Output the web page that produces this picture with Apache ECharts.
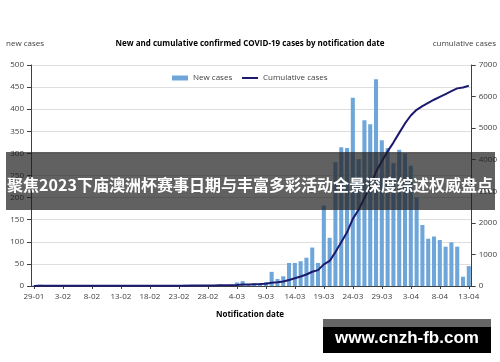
<!DOCTYPE html>
<html><head><meta charset="utf-8">
<script src="https://cdn.jsdelivr.net/npm/echarts@6/dist/echarts.min.js"></script>
<style>html,body{margin:0;padding:0;background:#fff}#c{width:500px;height:362px}</style>
</head><body><div id="c"></div>
<script>
var dates = ["29-01","30-01","31-01","1-02","2-02","3-02","4-02","5-02","6-02","7-02","8-02","9-02","10-02","11-02","12-02","13-02","14-02","15-02","16-02","17-02","18-02","19-02","20-02","21-02","22-02","23-02","24-02","25-02","26-02","27-02","28-02","29-02","1-03","2-03","3-03","4-03","5-03","6-03","7-03","8-03","9-03","10-03","11-03","12-03","13-03","14-03","15-03","16-03","17-03","18-03","19-03","20-03","21-03","22-03","23-03","24-03","25-03","26-03","27-03","28-03","29-03","30-03","31-03","1-04","2-04","3-04","4-04","5-04","6-04","7-04","8-04","9-04","10-04","11-04","12-04","13-04"];
var newCases = [1,3,1,0,1,0,0,1,0,0,0,0,0,0,0,0,0,0,0,0,0,0,0,0,0,1,3,1,1,2,2,2,3,2,3,8,11,4,6,5,9,32,16,22,52,52,56,64,87,52,182,109,280,314,312,426,287,375,366,468,330,312,278,308,300,272,200,138,107,112,104,89,99,89,21,45];
var cumulative = [1,4,5,5,6,6,6,7,7,7,7,7,7,7,7,7,7,7,7,7,7,7,7,7,7,8,11,12,13,15,17,19,22,24,27,35,46,50,56,61,70,102,118,140,192,244,300,364,451,503,685,794,1074,1388,1700,2126,2413,2788,3154,3622,3952,4264,4542,4850,5150,5400,5580,5700,5800,5900,5990,6080,6170,6260,6290,6340];
var leftTicks = {min:0, max:500, interval:50};
var rightTicks = {min:0, max:7000, interval:1000};
var titleText = "New and cumulative confirmed COVID-19 cases by notification date";
var bannerText = "聚焦2023下庙澳洲杯赛事日期与丰富多彩活动全景深度综述权威盘点";
var watermarkText = "www.cnzh-fb.com";

var F = "'Open Sans', 'Liberation Sans', sans-serif";
var chart = echarts.init(document.getElementById('c'), null, {renderer:'canvas'});
chart.setOption({
  animation:false,
  textStyle:{fontFamily:F},
  grid:{left:31, right:28, top:65, bottom:76, containLabel:false},
  legend:[
    {left:172, top:74, padding:0, itemWidth:16, itemHeight:5, itemGap:14,
     textStyle:{fontSize:8, color:'#404040', fontFamily:F},
     data:[{name:'New cases', icon:'rect'}]},
    {left:242, top:74, padding:0, itemWidth:16, itemHeight:2, itemGap:14,
     textStyle:{fontSize:8, color:'#404040', fontFamily:F},
     data:[{name:'Cumulative cases', icon:'rect'}]}
  ],
  xAxis:{
    type:'category', data:dates, boundaryGap:true,
    axisLine:{show:true, lineStyle:{color:'#404040', width:1}},
    axisTick:{show:true, interval:4, alignWithLabel:true, length:3, lineStyle:{color:'#404040'}},
    axisLabel:{interval:4, fontSize:8, color:'#404040', margin:7, fontFamily:F}
  },
  yAxis:[
    {type:'value', min:leftTicks.min, max:leftTicks.max, interval:leftTicks.interval, position:'left',
     axisLine:{show:true, lineStyle:{color:'#404040'}},
     axisTick:{show:true, length:4, lineStyle:{color:'#404040'}},
     axisLabel:{fontSize:8, color:'#404040', margin:7, fontFamily:F},
     splitLine:{show:true, lineStyle:{color:'#dedede', width:1}}},
    {type:'value', min:rightTicks.min, max:rightTicks.max, interval:rightTicks.interval, position:'right',
     axisLine:{show:true, lineStyle:{color:'#404040'}},
     axisTick:{show:true, length:4, lineStyle:{color:'#404040'}},
     axisLabel:{fontSize:8, color:'#404040', margin:7, fontFamily:F, formatter:function(v){return String(v);}},
     splitLine:{show:false}}
  ],
  series:[
    {name:'New cases', type:'bar', yAxisIndex:0, data:newCases, barCategoryGap:'30%',
     itemStyle:{color:'#6ea6da'}},
    {name:'Cumulative cases', type:'line', yAxisIndex:1, data:cumulative, symbol:'none',
     lineStyle:{color:'#1c1a6e', width:2}, itemStyle:{color:'#1c1a6e'}, z:5}
  ],
  graphic:[
    {type:'text', left:'center', top:40, style:{text:titleText, font:"bold 8px "+F, fill:'#000'}},
    {type:'text', left:6, top:40, style:{text:'new cases', font:"8px "+F, fill:'#404040'}},
    {type:'text', right:4, top:40, style:{text:'cumulative cases', font:"8px "+F, fill:'#404040'}},
    {type:'text', left:'center', top:311, style:{text:'Notification date', font:"bold 8px "+F, fill:'#000'}},
    {type:'rect', z:100, shape:{x:6, y:152, width:489, height:58}, style:{fill:'rgba(30,30,30,0.7)'}},
    {type:'text', z:101, x:250, y:185, style:{text:bannerText, font:"bold 16px 'Noto Sans CJK SC'", fill:'#fff', textAlign:'center', textVerticalAlign:'middle'}},
    {type:'rect', z:100, shape:{x:323, y:319, width:168, height:34}, style:{fill:'#000'}},
    {type:'rect', z:100, shape:{x:323, y:319, width:168, height:8}, style:{fill:'#666'}},
    {type:'text', z:101, x:407, y:338, style:{text:watermarkText, font:"bold 17px 'Liberation Sans'", fill:'#fff', textAlign:'center', textVerticalAlign:'middle'}}
  ]
});
</script></body></html>
